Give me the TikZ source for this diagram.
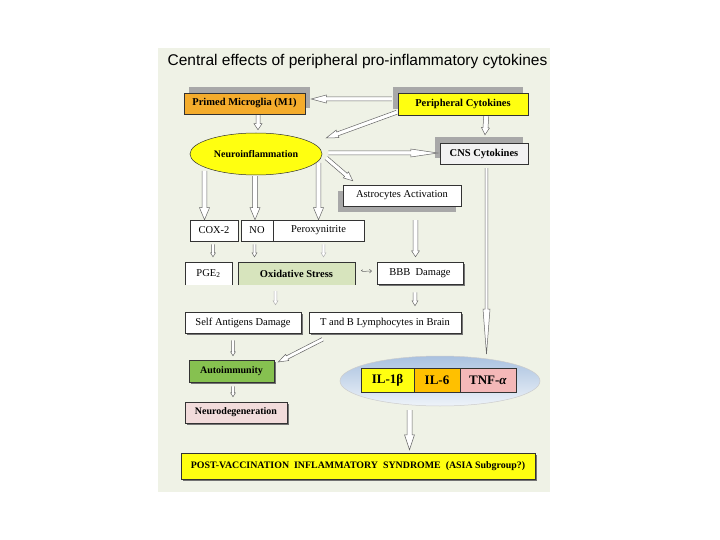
\documentclass[tikz,border=0pt]{standalone}
\usepackage{fontspec}
\setmainfont{Liberation Serif}
\newfontfamily\titlefont{Liberation Sans}
\usetikzlibrary{calc,arrows.meta,shapes.geometric,shadows}

\definecolor{panel}{HTML}{EFF2E6}
\definecolor{microglia}{HTML}{F4AC2C}
\definecolor{yel}{HTML}{FFFF10}
\definecolor{cnsfill}{HTML}{F2F2F2}
\definecolor{oxfill}{HTML}{D7E4BD}
\definecolor{autofill}{HTML}{86C150}
\definecolor{neurofill}{HTML}{F2DCDB}
\definecolor{ilorange}{HTML}{FFC000}
\definecolor{tnfpink}{HTML}{F4B8B8}
\definecolor{shadowc}{HTML}{A8A8A8}
\definecolor{linec}{HTML}{333333}
\definecolor{elltop}{HTML}{A9C1DF}
\definecolor{ellmid}{HTML}{C4D5EB}
\definecolor{ellbot}{HTML}{EEF3F9}

\tikzset{
  box/.style={draw=linec, line width=0.5pt, minimum height=21pt, inner sep=0pt,
    font=\fontsize{10.5}{12}\selectfont, text=black},
  openbox/.style={minimum height=23pt, inner sep=0pt, font=\fontsize{10.5}{12}\selectfont},
  shUR/.style={general shadow={fill=shadowc, shadow xshift=5pt, shadow yshift=6pt}},
  shUL/.style={general shadow={fill=shadowc, shadow xshift=-5pt, shadow yshift=6pt}},
  shDL/.style={general shadow={fill=shadowc, shadow xshift=-5pt, shadow yshift=-6pt}},
  shSmall/.style={general shadow={fill=black!55, shadow xshift=1.5pt, shadow yshift=-1.5pt}},
  harrowstyle/.style={draw=black!60, fill=white, line width=0.5pt, line join=miter},
  faint/.style={draw=black!30},
  ilbox/.style={draw=linec, line width=0.5pt, minimum height=24pt, inner sep=0pt,
    font=\fontsize{13}{15}\selectfont\bfseries},
}

% hollow arrow: [opts]{from}{to}{shaft half width}{head half width}{head length}
\newcommand\harrow[6][]{%
  \coordinate (hA) at #2;
  \coordinate (hB) at #3;
  \coordinate (hH) at ($(hB)!#6!(hA)$);
  \draw[harrowstyle,#1] ($(hA)!#4!90:(hB)$) -- ($(hH)!#4!90:(hB)$) -- ($(hH)!#5!90:(hB)$)
    -- (hB) -- ($(hH)!#5!-90:(hB)$) -- ($(hH)!#4!-90:(hB)$) -- ($(hA)!#4!-90:(hB)$);
}

\begin{document}
\begin{tikzpicture}[x=1pt, y=-1pt]
\useasboundingbox (0,0) rectangle (720,540);
\fill[white] (0,0) rectangle (720,540);
\fill[panel] (158,48) rectangle (550,492);

\node[font=\titlefont\fontsize{15.5}{18}\selectfont, inner sep=0pt] (title) at (357.5,61) {Central effects of peripheral pro-inflammatory cytokines};

% top row
\node[box, shUR, fill=microglia, minimum width=121pt] (pm) at (244.5,103.5) {\bfseries Primed Microglia (M1)};
\node[box, shUL, fill=yel, minimum width=130pt, minimum height=22pt] (pc) at (463,104) {\bfseries Peripheral Cytokines};

\node[ellipse, draw=linec, line width=0.5pt, fill=yel, minimum width=132pt, minimum height=42pt, inner sep=0pt,
  font=\fontsize{10}{12}\selectfont\bfseries] (ni) at (256,154) {Neuroinflammation};
\node[box, shUL, fill=cnsfill, minimum width=88pt] (cns) at (484,153.5) {\bfseries CNS Cytokines};
\node[box, shDL, fill=white, minimum width=118pt] (astro) at (402,195.5) {Astrocytes Activation};

% COX-2 / NO / Peroxynitrite
\node[box, fill=white, minimum width=48pt] (cox) at (214,230.5) {COX-2};
\node[box, fill=white, minimum width=32pt] (no) at (257,230.5) {NO};
\node[box, fill=white, minimum width=91pt] (perox) at (318.5,230.5) {Peroxynitrite};

% PGE2 / Oxidative stress / BBB
\node[openbox, fill=white, minimum width=47pt] (pge) at (208.5,273.5) {PGE\textsubscript{2}};
\draw[linec, line width=0.5pt] (pge.south west) -- (pge.north west) -- (pge.north east) -- (pge.south east);
\node[openbox, fill=oxfill, minimum width=117pt] (ox) at (296.5,273.5) {\bfseries Oxidative Stress};
\draw[linec, line width=0.5pt] (ox.south west) -- (ox.north west) -- (ox.north east) -- (ox.south east);
\node[box, shSmall, fill=white, minimum width=86pt, minimum height=22pt] (bbb) at (420,273) {BBB~ Damage};

% Self antigens / T and B
\node[box, shSmall, fill=white, minimum width=116pt] (sad) at (243,322.5) {Self Antigens Damage};
\node[box, shSmall, fill=white, minimum width=152pt] (tb) at (385,322.5) {T and B Lymphocytes in Brain};

% Autoimmunity / Neurodegeneration
\node[box, shSmall, fill=autofill, minimum width=85pt, minimum height=22pt, font=\fontsize{10}{12}\selectfont] (auto) at (231.5,371) {\bfseries Autoimmunity};
\node[box, shSmall, fill=neurofill, minimum width=102pt, font=\fontsize{10}{12}\selectfont] (neuro) at (236,412.5) {\bfseries Neurodegeneration};

% cytokine ellipse
\node[ellipse, draw=black!20, line width=0.5pt, top color=elltop, middle color=ellmid, bottom color=ellbot, minimum width=200pt, minimum height=50pt, inner sep=0pt] (cyto) at (440,381) {};
\node[ilbox, fill=yel, minimum width=53pt] (il1) at (387.5,380) {IL-1β};
\node[ilbox, fill=ilorange, minimum width=46pt] (il6) at (437,380) {IL-6};
\node[ilbox, fill=tnfpink, minimum width=56pt] (tnf) at (488,380) {TNF-\textit{α}};

% final box
\node[box, shSmall, fill=yel, minimum width=354pt, minimum height=26pt, font=\fontsize{9.9}{11}\selectfont\bfseries] (post) at (358,466) {POST-VACCINATION\ \ INFLAMMATORY\ \ SYNDROME\ \ (ASIA Subgroup?)};

% arrows
\harrow{($(pc.west)+(-6,-5)$)}{($(pm.east)+(6,-4.5)$)}{2pt}{4pt}{15pt}
\harrow{($(pc.south west)+(-1,-3)$)}{($(ni.east)+(4,-16)$)}{2pt}{4pt}{12pt}
\harrow{($(pm.south)+(13.5,1)$)}{($(ni.north)+(2,-3)$)}{2pt}{4pt}{6pt}
\harrow{($(pc.south east)+(-42,1)$)}{($(cns.north)+(1,-8)$)}{2.5pt}{4pt}{7pt}
\harrow{($(ni.east)+(6,-1)$)}{($(cns.west)+(-2,-0.5)$)}{2pt}{4pt}{27pt}
\harrow{($(ni.east)+(4,4)$)}{($(astro.north west)+(10,-4)$)}{2pt}{4pt}{9pt}
\harrow{($(ni.center)+(-51.5,17)$)}{($(cox.north)+(-9.5,0)$)}{2.3pt}{5pt}{12pt}
\harrow{($(ni.south)+(-1,1)$)}{($(no.north)+(-2,0)$)}{2.3pt}{5pt}{12pt}
\harrow{($(ni.center)+(62.5,9)$)}{(perox.north)}{2.3pt}{5pt}{12pt}
\harrow{($(cns.south)+(2.5,4)$)}{($(cyto.center)+(46.5,-27)$)}{1.3pt}{3.5pt}{45pt}
\harrow{($(cox.south)+(-1,3)$)}{($(pge.north)+(4.5,-5)$)}{1.3pt}{2.5pt}{4pt}
\harrow{($(no.south)+(-2.5,3)$)}{($(ox.north)+(-42,-5)$)}{1.3pt}{2.5pt}{4pt}
\harrow[faint]{($(perox.south)+(5,3)$)}{($(ox.north)+(27,-5)$)}{1.3pt}{2.5pt}{4pt}
\harrow{($(astro.south)+(13.5,14)$)}{($(bbb.north)+(-4.5,-5)$)}{2.3pt}{4pt}{6pt}
\draw[black!60, line width=0.5pt, {Hooks[right,length=1.5pt,width=4pt]}-{To[length=2.5pt,width=4pt]}] ($(ox.east)+(6,-2)$) -- ($(bbb.west)+(-5,-2)$);
\harrow[faint]{($(ox.south)+(-21,6)$)}{($(sad.north)+(32.5,-7)$)}{1.3pt}{2.5pt}{4pt}
\harrow{($(bbb.south)+(-5,8)$)}{($(tb.north)+(30,-6)$)}{1.8pt}{3pt}{5pt}
\harrow{($(sad.south)+(-10,7)$)}{($(auto.north)+(1.5,-4)$)}{1.3pt}{2.5pt}{4pt}
\harrow{($(tb.south west)+(14,6)$)}{($(auto.east)+(4,-9)$)}{1.8pt}{3.5pt}{10pt}
\harrow{($(auto.south)+(1.5,4)$)}{($(neuro.north)+(-3,-5)$)}{1.3pt}{2.5pt}{4pt}
\harrow{($(cyto.center)+(-30.5,29)$)}{($(post.north)+(51.5,-3)$)}{2.5pt}{5pt}{15pt}
\end{tikzpicture}
\end{document}
